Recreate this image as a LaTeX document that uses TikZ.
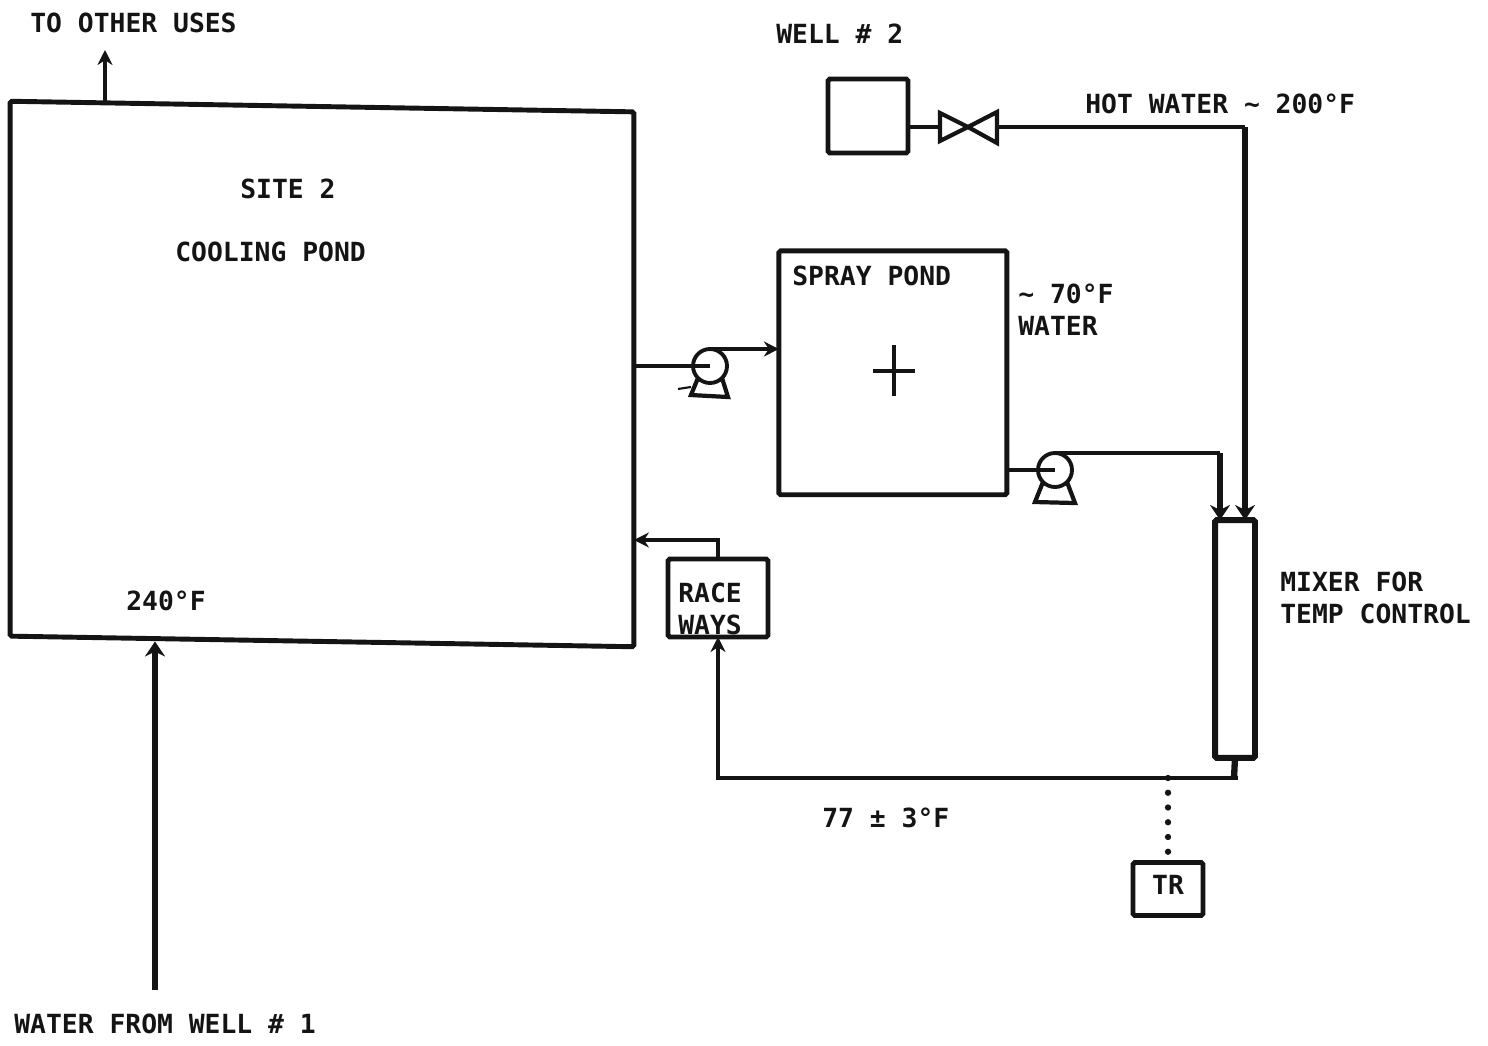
\documentclass[tikz,border=0pt]{standalone}
\usepackage{fontspec}
\usepackage{xcolor}
\usepackage{tikz}
\usetikzlibrary{arrows.meta,positioning,calc}
\setmainfont{DejaVu Sans Mono}
\definecolor{ink}{HTML}{141414}
\tikzset{
  vessel/.style={draw=ink,line width=2.8pt,rounded corners=1pt,fill=white,inner sep=0pt,outer sep=0pt},
  wheel/.style={circle,draw=ink,line width=2.2pt,fill=white,minimum size=0.68cm,inner sep=0pt,outer sep=0pt},
  valvebody/.style={minimum width=1.14cm,minimum height=0.56cm,inner sep=0pt,outer sep=0pt},
  pipe/.style={draw=ink,line width=2.4pt},
  mainpipe/.style={draw=ink,line width=3.6pt},
  arrow/.style={pipe,-{Stealth[length=3mm,width=3mm]}},
  mainarrow/.style={mainpipe,-{Stealth[length=3mm,width=4mm]}},
  signal/.style={draw=ink,line width=3.6pt,line cap=round,dash pattern=on 0pt off 2.95mm},
  lbl/.style={font=\fontsize{15}{18}\selectfont\bfseries,text=ink,anchor=west,align=left,inner sep=0pt},
}
\begin{document}
\begin{tikzpicture}[x=0.02cm,y=-0.02cm]
  \useasboundingbox (0,0) rectangle (1488,1045);
  \node[vessel,transform shape,yslant=-0.017,minimum width=12.48cm,minimum height=10.7cm] (pond) at (322,374) {};
  \node[vessel,right=2.9cm of pond,yshift=0.13cm,minimum width=4.56cm,minimum height=4.88cm] (spray) {};
  \node[vessel,minimum width=1.6cm,minimum height=1.48cm] (well) at (868,116) {};
  \node[valvebody] (valve) at (968,127) {};
  \node[vessel,line width=3.4pt,minimum width=0.8cm,minimum height=4.76cm] (mixer) at (1235,639) {};
  \node[vessel,minimum width=2cm,minimum height=1.56cm] (race) at (718,598) {};
  \node[vessel,minimum width=1.4cm,minimum height=1.06cm] (tr) at (1168,889) {};
  \node[wheel] (pumpa) at (710,366) {};
  \node[wheel] (pumpb) at (1055,470) {};
  \coordinate (bend) at (1234,778);
  \coordinate (outlet) at (105,50);
  \coordinate (inlet) at (155,990);

  \draw[pipe] (pond.east |- pumpa.center) -- (pumpa.center);
  \draw[arrow] (pumpa.north) -- (pumpa.north -| spray.west);
  \draw[pipe] (spray.east |- pumpb.center) -- (pumpb.center);
  \draw[pipe] (pumpb.north) -- ++(165,0) coordinate (corner);
  \draw[mainarrow] (corner) -- (corner |- mixer.north);
  \draw[pipe] (pumpa.225) -- ++(-7,17) -- ++(37,2) -- (pumpa.315);
  \draw[pipe] (pumpb.225) -- ++(-8,20) -- ++(40,1) -- (pumpb.315);
  \draw[pipe,line width=1.2pt] (678,389) -- (691,387);

  \draw[pipe] (well.east |- valve.west) -- (valve.west);
  \draw[pipe] (valve.center) -- ++(-28,-14) -- ++(0,28) -- cycle;
  \draw[pipe] (valve.center) -- ++(29,-15) -- ++(0,31) -- cycle;
  \draw[pipe] (valve.east) -- (1245,127) coordinate (hot);
  \draw[mainarrow] (hot) -- (hot |- mixer.north);

  \draw[arrow] (outlet |- pond.north west) ++(0,2) -- (outlet);
  \draw[mainarrow] (inlet) -- (inlet |- pond.south);
  \draw[arrow] (race.north) |- (pond.east |- 0,540);
  \draw[mainpipe] (mixer.south) -- (bend);
  \draw[arrow,line width=2.8pt] (bend) ++(4,0) -| (race.south);
  \draw[signal] (tr.north |- bend) -- (tr.north);

  \draw[pipe,line width=1.9pt] (873,371) -- (915,371);
  \draw[pipe,line width=1.9pt] (894,345) -- (894,396);

  \node[lbl] (pondname) at (240,189) {SITE 2};
  \node[lbl] (pondkind) at (175,252) {COOLING POND};
  \node[lbl] (pondtemp) at (126,601) {240°F};
  \node[lbl] (outletname) at (30,23) {TO OTHER USES};
  \node[lbl] (inletname) at (14,1024) {WATER FROM WELL \# 1};
  \node[lbl] (wellname) at (776,34) {WELL \# 2};
  \node[lbl] (hotname) at (1085,104) {HOT WATER ∼ 200°F};
  \node[lbl] (sprayname) at (792,276) {SPRAY POND};
  \node[lbl] (spraytemp) at (1018,310) {∼ 70°F\\WATER};
  \node[lbl] (racename) at (678,609) {RACE\\WAYS};
  \node[lbl] (mixername) at (1280,598) {MIXER FOR\\TEMP CONTROL};
  \node[lbl] (mixtemp) at (822,818) {77 ± 3°F};
  \node[lbl,anchor=center] (trname) at ([yshift=0.08cm]tr.center) {TR};
\end{tikzpicture}
\end{document}
